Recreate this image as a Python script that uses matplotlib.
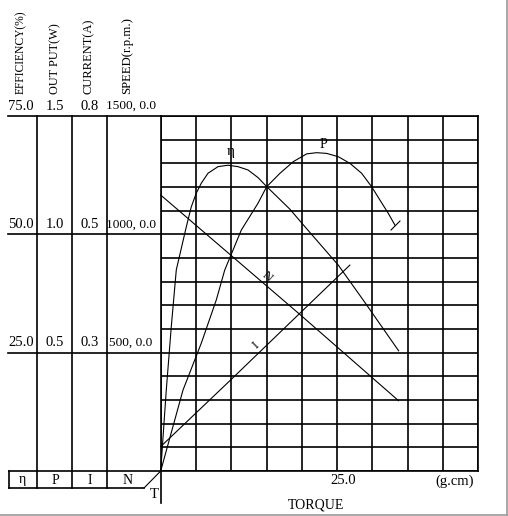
import matplotlib
matplotlib.use('Agg')
import matplotlib.pyplot as plt
from matplotlib.path import Path
import numpy as np

plt.rcParams['font.family'] = ['Liberation Serif', 'DejaVu Serif']

# efficiency (%) against torque (g.cm)
eta_torque = [0, 0.79, 1.50, 2.21, 3.63, 4.33, 5.04, 5.75, 6.70, 8.12, 9.53, 10.95,
              12.37, 13.78, 15.01, 16.66, 18.31, 20.44, 25.16, 28.70, 33.71]
eta_value = [0, 17.1, 30.5, 42.5, 51.6, 55.8, 58.7, 60.8, 62.9, 64.3, 64.6, 64.3,
             63.6, 62.0, 60.1, 57.7, 55.3, 51.6, 43.5, 36.1, 25.4]

# output power (W)
p_torque = [0, 3.16, 5.75, 7.88, 9.07, 11.42, 13.78, 15.01, 16.90, 18.78, 20.68, 22.10,
            23.51, 25.16, 26.81, 28.47, 29.89, 31.06, 32.24, 33.19]
p_value = [0, 0.342, 0.540, 0.723, 0.849, 1.018, 1.131, 1.201, 1.258, 1.307, 1.340, 1.345,
           1.342, 1.328, 1.300, 1.258, 1.201, 1.145, 1.089, 1.039]

# current (A)
i_torque = [0, 9.9, 26.8]
i_value = [0.055, 0.205, 0.464]

# speed (r.p.m.)
n_torque = [0, 19.7, 33.7]
n_value = [1166, 662, 297]

# left-hand scale table
axis_names = ['EFFICIENCY(%)', 'OUT PUT(W)', 'CURRENT(A)', 'SPEED(r.p.m.)']
axis_top = [75.0, 1.5, 0.8, 1500.0]
axis_ticks = [['75.0', '50.0', '25.0'],
              ['1.5', '1.0', '0.5'],
              ['0.8', '0.5', '0.3'],
              ['1500, 0.0', '1000, 0.0', '500, 0.0']]
symbols = ['η', 'P', 'I', 'N']

W, H = 508, 516
fig = plt.figure(figsize=(W / 100, H / 100), dpi=100)

# decoration layer in pixel coordinates
deco = fig.add_axes([0, 0, 1, 1])
deco.set_xlim(0, W)
deco.set_ylim(H, 0)
deco.axis('off')

# main grid area
gx0, gx1, gy0, gy1 = 160.7, 478.3, 116, 471
ax = fig.add_axes([gx0 / W, (H - gy1) / H, (gx1 - gx0) / W, (gy1 - gy0) / H])
ax.patch.set_alpha(0)
ax.set_xlim(0, 45)
ax.set_ylim(0, 75)
ax.set_xticks(np.arange(0, 46, 5))
ax.set_yticks(np.arange(0, 76, 5))
ax.tick_params(length=0, labelbottom=False, labelleft=False)
ax.grid(True, color='black', lw=1.2)
for s in ax.spines.values():
    s.set_color('black')
    s.set_linewidth(1.2)

lk = dict(color='black', lw=0.8, clip_on=False)
ax.plot(eta_torque, eta_value, **lk)
tick = Path([(-1, -1), (1, 1)], [Path.MOVETO, Path.LINETO])
ax.plot(p_torque, np.array(p_value) * 75 / axis_top[1], marker=tick,
        markevery=[len(p_torque) - 1], markersize=7, mew=0.8, mec='black', **lk)
ax.plot(i_torque, np.array(i_value) * 75 / axis_top[2], **lk)
ax.plot(n_torque, np.array(n_value) * 75 / axis_top[3], **lk)

# curve labels
ax.text(9.9, 67.5, 'η', fontsize=11, ha='center', va='center')
ax.text(23.0, 69.0, 'P', fontsize=10, ha='center', va='center')
ax.text(15.1, 41.0, 'N', fontsize=9, ha='center', va='center', rotation=-41)
ax.text(13.5, 26.5, 'I', fontsize=9, ha='center', va='center', rotation=44)

# table lines
tk = dict(color='black', lw=1.2)
line_y = [116, 234.3, 352.7]
for y in line_y:
    deco.plot([8, gx0], [y, y], **tk)
col_x = [37.3, 72.3, 107.3]
for x in col_x:
    deco.plot([x, x], [116, 488], **tk)
deco.plot([9.3, gx0], [471, 471], **tk)
deco.plot([9.3, 9.3], [471, 488], **tk)
deco.plot([9.3, 144], [488, 488], **tk)
deco.plot([144, gx0], [488, 471], color='black', lw=0.8)
deco.plot([gx0, gx0], [471, 503], **tk)

# image border
deco.plot([506.7, 506.7], [0, 515], color='#999999', lw=1.2)
deco.plot([0, 506.7], [515, 515], color='#999999', lw=1.2)

name_x = [20.7, 55, 88.3, 126.7]
name_size = [8.4, 8.8, 9.0, 9.2]
val_x = [21, 55, 89.5, 131]
val_size = [10.5, 10.5, 10.5, 9.6]
sym_x = [22, 55, 90, 128]
for k in range(4):
    deco.text(name_x[k], 94, axis_names[k], rotation=90, rotation_mode='anchor',
              ha='left', va='center', fontsize=name_size[k])
    for j, y in enumerate(line_y):
        deco.text(val_x[k], y - 10, axis_ticks[k][j], ha='center', va='center',
                  fontsize=val_size[k])
    deco.text(sym_x[k], 480, symbols[k], ha='center', va='center', fontsize=10)

deco.text(343, 480, '25.0', ha='center', va='center', fontsize=10.5)
deco.text(455, 481, '(g.cm)', ha='center', va='center', fontsize=10.5)
deco.text(154, 495, 'T', ha='center', va='center', fontsize=10.5)
deco.text(316, 505, 'TORQUE', ha='center', va='center', fontsize=10)

fig.savefig('out.png', dpi=100)
